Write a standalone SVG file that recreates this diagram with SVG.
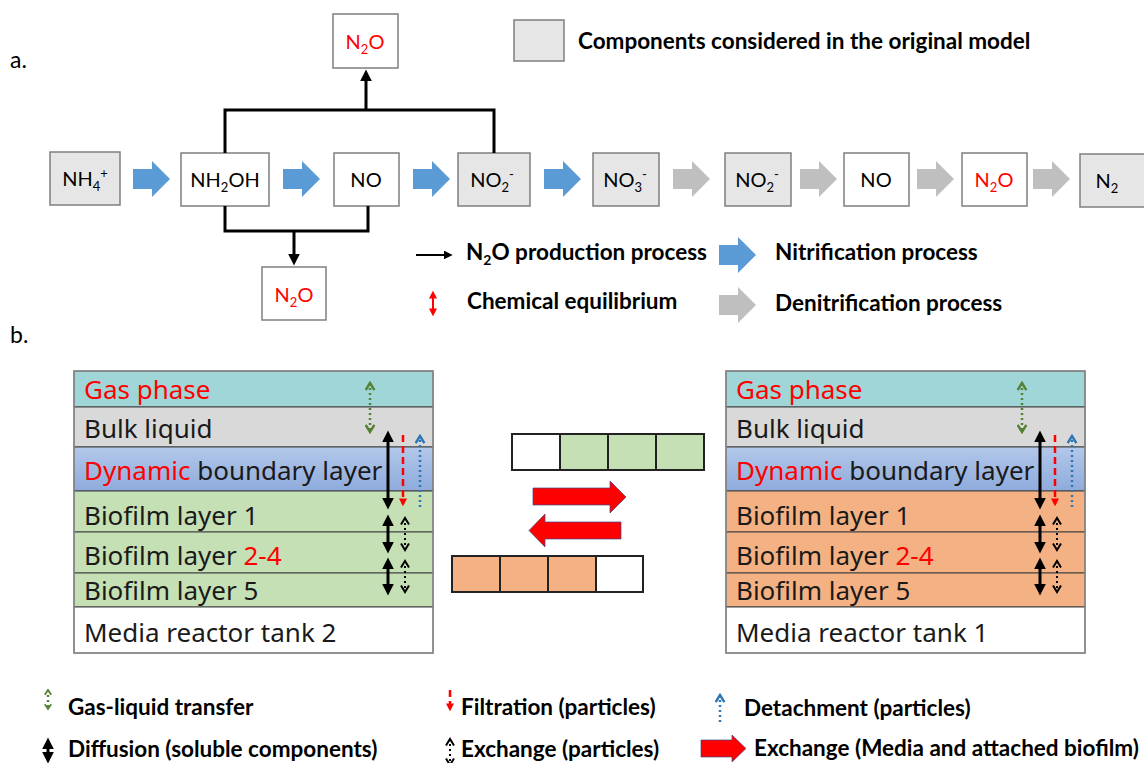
<svg xmlns="http://www.w3.org/2000/svg" width="1144" height="763" viewBox="0 0 1144 763">
<style>
.bx{stroke:#7f7f7f;stroke-width:1.5}
.g{fill:#e6e6e6}
.w{fill:#fff}
.t{font-family:Lato,"Liberation Sans",sans-serif;font-size:20px;fill:#000}
.red{fill:#ff0000}
.lg{font-family:Lato,"Liberation Sans",sans-serif;font-size:22.5px;font-weight:bold;fill:#000}
.st{font-family:"Noto Sans","Liberation Sans",sans-serif;font-size:26px;fill:#1a1a1a}
.lay{stroke:#404040;stroke-width:1}
.con{fill:none;stroke:#000;stroke-width:3}
.blk{stroke:#000;stroke-width:3;fill:none}
.grn{stroke:#548235;stroke-width:2.5;stroke-dasharray:2 3;fill:none}
.rdd{stroke:#ff0000;stroke-width:2.5;stroke-dasharray:7 4;fill:none}
.blu{stroke:#2e75b6;stroke-width:2.5;stroke-dasharray:2 3;fill:none}
.bdt{stroke:#000;stroke-width:2;stroke-dasharray:2 3;fill:none}
.cell{stroke:#222;stroke-width:2}
.ra{fill:#ff0000;stroke:#3b4a8a;stroke-width:0.7}
</style>
<defs>
<marker id="hBlk" viewBox="0 0 10 10" refX="7" refY="5" markerWidth="12" markerHeight="12" markerUnits="userSpaceOnUse" orient="auto-start-reverse"><path d="M0,0 L10,5 L0,10 z" fill="#000"/></marker>
<marker id="hBlkS" viewBox="0 0 10 10" refX="7" refY="5" markerWidth="9" markerHeight="9" markerUnits="userSpaceOnUse" orient="auto-start-reverse"><path d="M0,0 L10,5 L0,10 z" fill="#000"/></marker>
<marker id="hRed" viewBox="0 0 10 10" refX="7" refY="5" markerWidth="8" markerHeight="8" markerUnits="userSpaceOnUse" orient="auto-start-reverse"><path d="M0,0 L10,5 L0,10 z" fill="#ff0000"/></marker>
<marker id="cG" viewBox="0 0 10 10" refX="8" refY="5" markerWidth="11" markerHeight="11" markerUnits="userSpaceOnUse" orient="auto-start-reverse"><path d="M1.5,1 L8,5 L1.5,9" fill="none" stroke="#548235" stroke-width="2.2"/></marker>
<marker id="cGs" viewBox="0 0 10 10" refX="8" refY="5" markerWidth="8" markerHeight="8" markerUnits="userSpaceOnUse" orient="auto-start-reverse"><path d="M2,1 L8,5 L2,9" fill="none" stroke="#548235" stroke-width="2.2"/></marker>
<marker id="cB" viewBox="0 0 10 10" refX="8" refY="5" markerWidth="11" markerHeight="11" markerUnits="userSpaceOnUse" orient="auto-start-reverse"><path d="M1.5,1 L8,5 L1.5,9" fill="none" stroke="#2e75b6" stroke-width="2.2"/></marker>
<marker id="cK" viewBox="0 0 10 10" refX="8" refY="5" markerWidth="10" markerHeight="10" markerUnits="userSpaceOnUse" orient="auto-start-reverse"><path d="M1.5,1 L8,5 L1.5,9" fill="none" stroke="#000" stroke-width="2"/></marker>
<path id="blockArrow" d="M0,-10 H19 V-18 L37,0 L19,18 V10 H0 Z"/>
<linearGradient id="dbl" x1="0" y1="0" x2="0" y2="1"><stop offset="0" stop-color="#b3c8ea"/><stop offset="1" stop-color="#8eabdc"/></linearGradient>
</defs>

<text x="10" y="68" style="font-family:Lato,'Liberation Sans',sans-serif;font-size:23px">a.</text>
<text x="10" y="343" style="font-family:Lato,'Liberation Sans',sans-serif;font-size:23px">b.</text>

<!-- part a nodes -->
<g id="n-nh4"><rect class="bx g" x="50" y="152" width="70" height="53"/><text class="t" x="85" y="186" text-anchor="middle">NH<tspan font-size="13" dy="5">4</tspan><tspan font-size="13" dy="-13">+</tspan></text></g>
<g id="n-nh2oh"><rect class="bx w" x="181" y="153" width="88" height="53"/><text class="t" x="225" y="187" text-anchor="middle">NH<tspan font-size="13" dy="5">2</tspan><tspan dy="-5">OH</tspan></text></g>
<g id="n-no1"><rect class="bx w" x="334" y="153" width="65" height="53"/><text class="t" x="366" y="187" text-anchor="middle">NO</text></g>
<g id="n-no2a"><rect class="bx g" x="458" y="153" width="72" height="53"/><text class="t" x="492" y="187" text-anchor="middle">NO<tspan font-size="13" dy="5">2</tspan><tspan font-size="13" dy="-13">-</tspan></text></g>
<g id="n-no3"><rect class="bx g" x="593" y="153" width="66" height="53"/><text class="t" x="625" y="187" text-anchor="middle">NO<tspan font-size="13" dy="5">3</tspan><tspan font-size="13" dy="-13">-</tspan></text></g>
<g id="n-no2b"><rect class="bx g" x="725" y="153" width="66" height="53"/><text class="t" x="757" y="187" text-anchor="middle">NO<tspan font-size="13" dy="5">2</tspan><tspan font-size="13" dy="-13">-</tspan></text></g>
<g id="n-no2"><rect class="bx w" x="844" y="153" width="65" height="53"/><text class="t" x="876" y="187" text-anchor="middle">NO</text></g>
<g id="n-n2o-den"><rect class="bx w" x="962" y="153" width="65" height="53"/><text class="t red" x="994" y="187" text-anchor="middle">N<tspan font-size="13" dy="5">2</tspan><tspan dy="-5">O</tspan></text></g>
<g id="n-n2"><rect class="bx g" x="1080" y="154" width="70" height="53"/><text class="t" x="1107" y="188" text-anchor="middle">N<tspan font-size="13" dy="5">2</tspan></text></g>
<g id="n-n2o-top"><rect class="bx w" x="333" y="14" width="65" height="54"/><text class="t red" x="365" y="49" text-anchor="middle">N<tspan font-size="13" dy="5">2</tspan><tspan dy="-5">O</tspan></text></g>
<g id="n-n2o-bot"><rect class="bx w" x="262" y="267" width="64" height="53"/><text class="t red" x="294" y="302" text-anchor="middle">N<tspan font-size="13" dy="5">2</tspan><tspan dy="-5">O</tspan></text></g>

<!-- connectors part a -->
<g id="connectors-a">
<use href="#blockArrow" x="133" y="179" fill="#5b9bd5"/>
<use href="#blockArrow" x="283" y="179" fill="#5b9bd5"/>
<use href="#blockArrow" x="413" y="179" fill="#5b9bd5"/>
<use href="#blockArrow" x="544" y="179" fill="#5b9bd5"/>
<use href="#blockArrow" x="673" y="179" fill="#bfbfbf"/>
<use href="#blockArrow" x="800" y="179" fill="#bfbfbf"/>
<use href="#blockArrow" x="917" y="179" fill="#bfbfbf"/>
<use href="#blockArrow" x="1033" y="179" fill="#bfbfbf"/>
<path class="con" d="M225,153 V110 H494 V153"/>
<path class="con" d="M366,110 V73" marker-end="url(#hBlk)"/>
<path class="con" d="M225,206 V231 H368 V206"/>
<path class="con" d="M294,231 V262" marker-end="url(#hBlk)"/>
</g>

<!-- legend a -->
<g id="legend-a">
<rect class="bx g" x="514" y="20" width="50" height="41"/>
<text class="lg" x="578" y="49">Components considered in the original model</text>
<path d="M416,255 H450" stroke="#000" stroke-width="2" marker-end="url(#hBlkS)"/>
<text class="lg" x="466" y="260">N<tspan font-size="14" dy="5">2</tspan><tspan dy="-5">O production process</tspan></text>
<path d="M433,293 V314" stroke="#ff0000" stroke-width="2" marker-start="url(#hRed)" marker-end="url(#hRed)"/>
<text class="lg" x="467" y="309">Chemical equilibrium</text>
<use href="#blockArrow" x="719" y="255" fill="#5b9bd5"/>
<text class="lg" x="775" y="260">Nitrification process</text>
<use href="#blockArrow" x="719" y="305" fill="#bfbfbf"/>
<text class="lg" x="775" y="311">Denitrification process</text>
</g>

<!-- part b left stack -->
<g id="tank2">
<rect class="lay" x="74" y="371" width="359" height="36" fill="#a1d6d8"/>
<rect class="lay" x="74" y="407" width="359" height="40" fill="#d9d9d9"/>
<rect class="lay" x="74" y="447" width="359" height="44" fill="url(#dbl)"/>
<rect class="lay" x="74" y="491" width="359" height="41" fill="#c5e0b4"/>
<rect class="lay" x="74" y="532" width="359" height="41" fill="#c5e0b4"/>
<rect class="lay" x="74" y="573" width="359" height="34" fill="#c5e0b4"/>
<rect class="lay" x="74" y="607" width="359" height="46" fill="#fff"/>
<rect x="74" y="371" width="359" height="282" fill="none" stroke="#8c8c8c" stroke-width="1.5"/>
<text class="st" x="84" y="399"><tspan fill="#ff0000">Gas phase</tspan></text>
<text class="st" x="84" y="438">Bulk liquid</text>
<text class="st" x="84" y="480"><tspan fill="#ff0000">Dynamic</tspan> boundary layer</text>
<text class="st" x="84" y="525">Biofilm layer 1</text>
<text class="st" x="84" y="565">Biofilm layer <tspan fill="#ff0000">2-4</tspan></text>
<text class="st" x="84" y="600">Biofilm layer 5</text>
<text class="st" x="84" y="642">Media reactor tank 2</text>
</g>

<!-- part b right stack -->
<g id="tank1">
<rect class="lay" x="726" y="371" width="359" height="36" fill="#a1d6d8"/>
<rect class="lay" x="726" y="407" width="359" height="40" fill="#d9d9d9"/>
<rect class="lay" x="726" y="447" width="359" height="44" fill="url(#dbl)"/>
<rect class="lay" x="726" y="491" width="359" height="41" fill="#f4b183"/>
<rect class="lay" x="726" y="532" width="359" height="41" fill="#f4b183"/>
<rect class="lay" x="726" y="573" width="359" height="34" fill="#f4b183"/>
<rect class="lay" x="726" y="607" width="359" height="46" fill="#fff"/>
<rect x="726" y="371" width="359" height="282" fill="none" stroke="#8c8c8c" stroke-width="1.5"/>
<text class="st" x="736" y="399"><tspan fill="#ff0000">Gas phase</tspan></text>
<text class="st" x="736" y="438">Bulk liquid</text>
<text class="st" x="736" y="480"><tspan fill="#ff0000">Dynamic</tspan> boundary layer</text>
<text class="st" x="736" y="525">Biofilm layer 1</text>
<text class="st" x="736" y="565">Biofilm layer <tspan fill="#ff0000">2-4</tspan></text>
<text class="st" x="736" y="600">Biofilm layer 5</text>
<text class="st" x="736" y="642">Media reactor tank 1</text>
</g>

<!-- middle media strips -->
<g id="media-green">
<rect class="cell" x="512" y="434" width="48" height="36" fill="#fff"/>
<rect class="cell" x="560" y="434" width="48" height="36" fill="#c5e0b4"/>
<rect class="cell" x="608" y="434" width="48" height="36" fill="#c5e0b4"/>
<rect class="cell" x="656" y="434" width="48" height="36" fill="#c5e0b4"/>
</g>
<g id="media-orange">
<rect class="cell" x="452" y="556" width="48" height="36" fill="#f4b183"/>
<rect class="cell" x="500" y="556" width="48" height="36" fill="#f4b183"/>
<rect class="cell" x="548" y="556" width="48" height="36" fill="#f4b183"/>
<rect class="cell" x="596" y="556" width="47" height="36" fill="#fff"/>
</g>

<!-- connectors part b -->
<g id="connectors-b">
<path class="ra" d="M533,488 H610 V481 L626,497 L610,513 V505 H533 Z"/>
<path class="ra" d="M621,522 H545 V514 L529,530.5 L545,547 V539 H621 Z"/>
<!-- left tank arrows -->
<path class="grn" d="M370,383 V432" marker-start="url(#cG)" marker-end="url(#cG)"/>
<path class="blk" d="M388,434 V506" marker-start="url(#hBlk)" marker-end="url(#hBlk)"/>
<path class="rdd" d="M403,435 V504" marker-end="url(#hRed)"/>
<path class="blu" d="M420,507 V436" marker-end="url(#cB)"/>
<path class="blk" d="M388,518 V550" marker-start="url(#hBlk)" marker-end="url(#hBlk)"/>
<path class="blk" d="M388,561 V592" marker-start="url(#hBlk)" marker-end="url(#hBlk)"/>
<path class="bdt" d="M405,518 V550" marker-start="url(#cK)" marker-end="url(#cK)"/>
<path class="bdt" d="M405,561 V592" marker-start="url(#cK)" marker-end="url(#cK)"/>
<!-- right tank arrows -->
<path class="grn" d="M1022,383 V432" marker-start="url(#cG)" marker-end="url(#cG)"/>
<path class="blk" d="M1040,434 V506" marker-start="url(#hBlk)" marker-end="url(#hBlk)"/>
<path class="rdd" d="M1055,435 V504" marker-end="url(#hRed)"/>
<path class="blu" d="M1072,507 V436" marker-end="url(#cB)"/>
<path class="blk" d="M1040,518 V550" marker-start="url(#hBlk)" marker-end="url(#hBlk)"/>
<path class="blk" d="M1040,561 V592" marker-start="url(#hBlk)" marker-end="url(#hBlk)"/>
<path class="bdt" d="M1057,518 V550" marker-start="url(#cK)" marker-end="url(#cK)"/>
<path class="bdt" d="M1057,561 V592" marker-start="url(#cK)" marker-end="url(#cK)"/>
</g>

<!-- legend b -->
<g id="legend-b">
<path class="grn" d="M48,690 V709" stroke-width="2" marker-start="url(#cGs)" marker-end="url(#cGs)"/>
<text class="lg" x="68" y="715">Gas-liquid transfer</text>
<path class="blk" d="M48,741 V760" marker-start="url(#hBlk)" marker-end="url(#hBlk)"/>
<text class="lg" x="68" y="757">Diffusion (soluble components)</text>
<path class="rdd" d="M450,690 V709" stroke-width="2" stroke-dasharray="5 3" marker-end="url(#hRed)"/>
<text class="lg" x="461" y="715">Filtration (particles)</text>
<path class="bdt" d="M450,739 V765" marker-start="url(#cK)" marker-end="url(#cK)"/>
<text class="lg" x="461" y="757">Exchange (particles)</text>
<path class="blu" d="M720,722 V695" stroke-width="2" marker-end="url(#cB)"/>
<text class="lg" x="744" y="716">Detachment (particles)</text>
<path class="ra" d="M701,740 H732 V735 L746,748.5 L732,762 V757 H701 Z"/>
<text class="lg" x="754" y="756">Exchange (Media and attached biofilm)</text>
</g>
</svg>
